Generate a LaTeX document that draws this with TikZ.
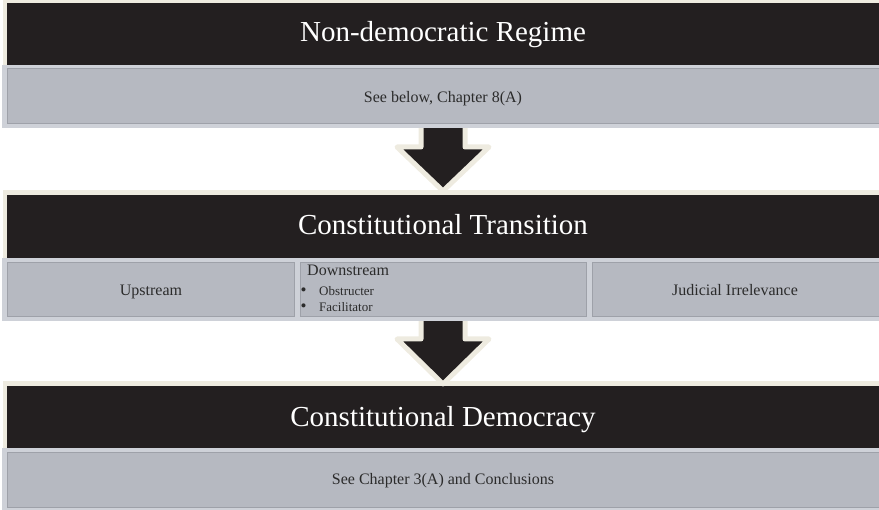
\documentclass[tikz,border=0pt]{standalone}
\usepackage{fontspec}
\setmainfont{Liberation Serif}
\definecolor{barblack}{HTML}{231F20}
\definecolor{cream}{HTML}{EEEBE0}
\definecolor{panelfill}{HTML}{B6B9C1}
\definecolor{panelrim}{HTML}{CED1D8}
\definecolor{panelline}{HTML}{9EA1A9}
\definecolor{inkgray}{HTML}{2B2B2B}
\newcommand{\itembullet}{\makebox[18.5pt][l]{\fontsize{17}{15}\selectfont •}}
\tikzset{
  bigtitle/.style={text=white, inner sep=0pt, anchor=base, font=\fontsize{29}{32}\selectfont},
  paneltext/.style={text=inkgray, inner sep=0pt, anchor=base, font=\fontsize{16}{18}\selectfont},
  itemtext/.style={text=inkgray, inner sep=0pt, anchor=base west, font=\fontsize{13}{15}\selectfont},
  blockarrow/.style={fill=barblack, draw=cream, line width=5pt, line join=round},
  panelinner/.style={fill=panelfill, draw=panelline, line width=0.8pt},
}
\begin{document}
\begin{tikzpicture}[x=1pt,y=-1pt]
\useasboundingbox (0,0) rectangle (879,510);
\clip (0,0) rectangle (879,510);

% title bars: cream rim on top and left, dark body
\fill[cream] (3,-3) rectangle (900,65);
\fill[barblack] (7,3) rectangle (900,65);
\fill[cream] (3,190) rectangle (900,258);
\fill[barblack] (7,195) rectangle (900,258);
\fill[cream] (3,381) rectangle (900,448);
\fill[barblack] (7,386) rectangle (900,448);

% block arrows between the stages
\draw[blockarrow] (421,116) -- (465,116) -- (465,147) -- (489,147) -- (443,191)
  -- (397,147) -- (421,147) -- cycle;
\draw[blockarrow] (421,308) -- (465,308) -- (465,339) -- (489,339) -- (443,384)
  -- (397,339) -- (421,339) -- cycle;

% panel under the first bar
\fill[panelrim] (2,65) rectangle (900,128);
\draw[panelinner] (7,68.5) rectangle (900,123);

% row of three panels under the second bar
\fill[panelrim] (2,258) rectangle (900,321);
\draw[panelinner] (7,262) rectangle (294.5,316);
\draw[panelinner] (300,262) rectangle (586,316);
\draw[panelinner] (592,262) rectangle (900,316);

% panel under the third bar
\fill[panelrim] (2,448) rectangle (900,512);
\draw[panelinner] (7,452) rectangle (900,507);

% texts
\node[bigtitle] (regime) at (443,42) {Non-democratic Regime};
\node[paneltext] (regimenote) at (443,103) {See below, Chapter 8(A)};
\node[bigtitle] (transition) at (443,235) {Constitutional Transition};
\node[paneltext] (upstream) at (151,296) {Upstream};
\node[paneltext, anchor=base west] (downstream) at (307,276) {Downstream};
\node[itemtext] (obstructer) at (300.5,296) {\itembullet Obstructer};
\node[itemtext] (facilitator) at (300.5,311.5) {\itembullet Facilitator};
\node[paneltext] (irrelevance) at (735,296) {Judicial Irrelevance};
\node[bigtitle] (democracy) at (443,427) {Constitutional Democracy};
\node[paneltext] (democracynote) at (443,485) {See Chapter 3(A) and Conclusions};
\end{tikzpicture}
\end{document}
